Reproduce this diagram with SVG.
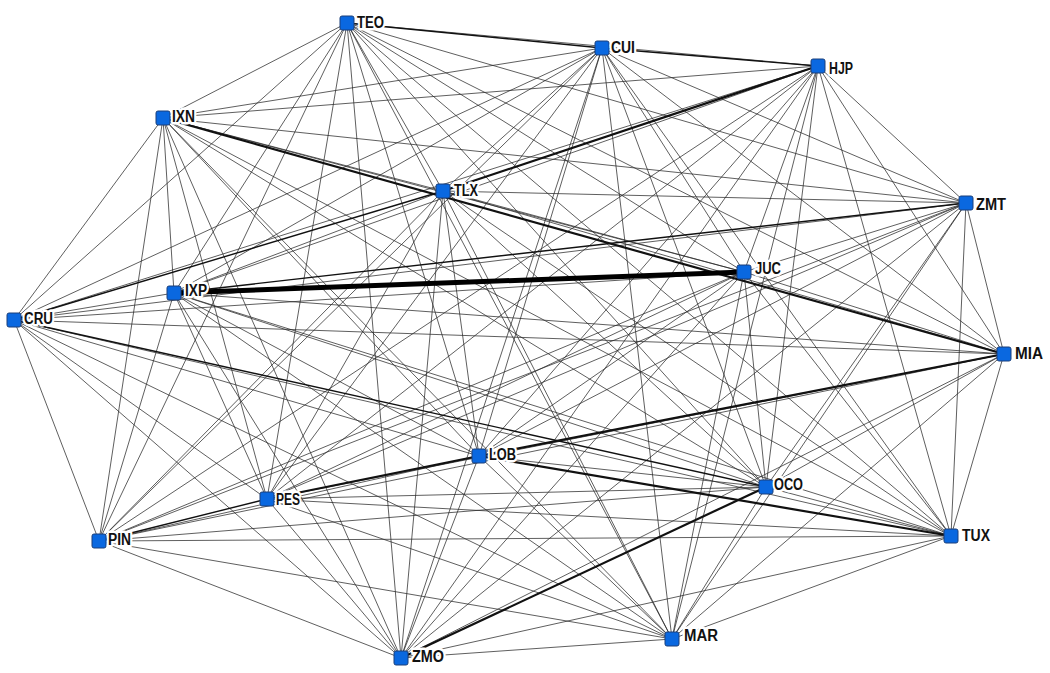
<svg xmlns="http://www.w3.org/2000/svg" width="1050" height="673" viewBox="0 0 1050 673">
<style>
.e{stroke:#2a2a2a;stroke-width:0.75;fill:none}
.t1{stroke:#111;stroke-width:1.4}
.t2{stroke:#111;stroke-width:2.2}
.t5{stroke:#000;stroke-width:5}
.n{fill:#0a68e0;stroke:#1b3f7a;stroke-width:1}
.l{font-family:"Liberation Sans",Arial,sans-serif;font-size:16px;font-weight:bold;fill:#111;stroke:#fff;stroke-width:5px;stroke-linejoin:round;paint-order:stroke}
</style>
<rect width="1050" height="673" fill="#fff"/>
<g id="connectors" class="e">
<line x1="347" y1="23" x2="818" y2="66"/><line x1="347" y1="23" x2="163" y2="118"/><line x1="347" y1="23" x2="443" y2="191"/><line x1="347" y1="23" x2="966" y2="203"/><line x1="347" y1="23" x2="744" y2="272"/><line x1="347" y1="23" x2="174" y2="293"/><line x1="347" y1="23" x2="14" y2="320"/><line x1="347" y1="23" x2="1004" y2="354"/><line x1="347" y1="23" x2="479" y2="456"/><line x1="347" y1="23" x2="766" y2="487"/><line x1="347" y1="23" x2="267" y2="499"/><line x1="347" y1="23" x2="99" y2="541"/><line x1="347" y1="23" x2="951" y2="536"/><line x1="347" y1="23" x2="672" y2="639"/><line x1="347" y1="23" x2="401" y2="658"/>
<line x1="602" y1="48" x2="163" y2="118"/><line x1="602" y1="48" x2="443" y2="191"/><line x1="602" y1="48" x2="966" y2="203"/><line x1="602" y1="48" x2="744" y2="272"/><line x1="602" y1="48" x2="174" y2="293"/><line x1="602" y1="48" x2="14" y2="320"/><line x1="602" y1="48" x2="1004" y2="354"/><line x1="602" y1="48" x2="479" y2="456"/><line x1="602" y1="48" x2="766" y2="487"/><line x1="602" y1="48" x2="267" y2="499"/><line x1="602" y1="48" x2="99" y2="541"/><line x1="602" y1="48" x2="951" y2="536"/><line x1="602" y1="48" x2="672" y2="639"/><line x1="602" y1="48" x2="401" y2="658"/>
<line x1="818" y1="66" x2="163" y2="118"/><line x1="818" y1="66" x2="966" y2="203"/><line x1="818" y1="66" x2="744" y2="272"/><line x1="818" y1="66" x2="174" y2="293"/><line x1="818" y1="66" x2="14" y2="320"/><line x1="818" y1="66" x2="1004" y2="354"/><line x1="818" y1="66" x2="479" y2="456"/><line x1="818" y1="66" x2="766" y2="487"/><line x1="818" y1="66" x2="267" y2="499"/><line x1="818" y1="66" x2="99" y2="541"/><line x1="818" y1="66" x2="951" y2="536"/><line x1="818" y1="66" x2="672" y2="639"/><line x1="818" y1="66" x2="401" y2="658"/>
<line x1="163" y1="118" x2="443" y2="191"/><line x1="163" y1="118" x2="966" y2="203"/><line x1="163" y1="118" x2="744" y2="272"/><line x1="163" y1="118" x2="174" y2="293"/><line x1="163" y1="118" x2="14" y2="320"/><line x1="163" y1="118" x2="479" y2="456"/><line x1="163" y1="118" x2="766" y2="487"/><line x1="163" y1="118" x2="267" y2="499"/><line x1="163" y1="118" x2="99" y2="541"/><line x1="163" y1="118" x2="951" y2="536"/><line x1="163" y1="118" x2="672" y2="639"/><line x1="163" y1="118" x2="401" y2="658"/>
<line x1="443" y1="191" x2="966" y2="203"/><line x1="443" y1="191" x2="744" y2="272"/><line x1="443" y1="191" x2="174" y2="293"/><line x1="443" y1="191" x2="1004" y2="354"/><line x1="443" y1="191" x2="479" y2="456"/><line x1="443" y1="191" x2="766" y2="487"/><line x1="443" y1="191" x2="267" y2="499"/><line x1="443" y1="191" x2="99" y2="541"/><line x1="443" y1="191" x2="951" y2="536"/><line x1="443" y1="191" x2="672" y2="639"/><line x1="443" y1="191" x2="401" y2="658"/>
<line x1="966" y1="203" x2="744" y2="272"/><line x1="966" y1="203" x2="14" y2="320"/><line x1="966" y1="203" x2="1004" y2="354"/><line x1="966" y1="203" x2="479" y2="456"/><line x1="966" y1="203" x2="766" y2="487"/><line x1="966" y1="203" x2="267" y2="499"/><line x1="966" y1="203" x2="99" y2="541"/><line x1="966" y1="203" x2="951" y2="536"/><line x1="966" y1="203" x2="672" y2="639"/><line x1="966" y1="203" x2="401" y2="658"/>
<line x1="744" y1="272" x2="14" y2="320"/><line x1="744" y1="272" x2="1004" y2="354"/><line x1="744" y1="272" x2="479" y2="456"/><line x1="744" y1="272" x2="766" y2="487"/><line x1="744" y1="272" x2="267" y2="499"/><line x1="744" y1="272" x2="99" y2="541"/><line x1="744" y1="272" x2="951" y2="536"/><line x1="744" y1="272" x2="672" y2="639"/><line x1="744" y1="272" x2="401" y2="658"/>
<line x1="174" y1="293" x2="14" y2="320"/><line x1="174" y1="293" x2="1004" y2="354"/><line x1="174" y1="293" x2="479" y2="456"/><line x1="174" y1="293" x2="766" y2="487"/><line x1="174" y1="293" x2="267" y2="499"/><line x1="174" y1="293" x2="99" y2="541"/><line x1="174" y1="293" x2="951" y2="536"/><line x1="174" y1="293" x2="672" y2="639"/><line x1="174" y1="293" x2="401" y2="658"/>
<line x1="14" y1="320" x2="1004" y2="354"/><line x1="14" y1="320" x2="479" y2="456"/><line x1="14" y1="320" x2="267" y2="499"/><line x1="14" y1="320" x2="99" y2="541"/><line x1="14" y1="320" x2="951" y2="536"/><line x1="14" y1="320" x2="672" y2="639"/><line x1="14" y1="320" x2="401" y2="658"/>
<line x1="1004" y1="354" x2="766" y2="487"/><line x1="1004" y1="354" x2="267" y2="499"/><line x1="1004" y1="354" x2="99" y2="541"/><line x1="1004" y1="354" x2="951" y2="536"/><line x1="1004" y1="354" x2="672" y2="639"/><line x1="1004" y1="354" x2="401" y2="658"/>
<line x1="479" y1="456" x2="766" y2="487"/><line x1="479" y1="456" x2="99" y2="541"/><line x1="479" y1="456" x2="672" y2="639"/><line x1="479" y1="456" x2="401" y2="658"/>
<line x1="766" y1="487" x2="267" y2="499"/><line x1="766" y1="487" x2="99" y2="541"/><line x1="766" y1="487" x2="951" y2="536"/><line x1="766" y1="487" x2="672" y2="639"/>
<line x1="267" y1="499" x2="951" y2="536"/><line x1="267" y1="499" x2="672" y2="639"/><line x1="267" y1="499" x2="401" y2="658"/>
<line x1="99" y1="541" x2="951" y2="536"/><line x1="99" y1="541" x2="672" y2="639"/><line x1="99" y1="541" x2="401" y2="658"/>
<line x1="951" y1="536" x2="672" y2="639"/><line x1="951" y1="536" x2="401" y2="658"/>
<line x1="672" y1="639" x2="401" y2="658"/>
<line class="t1" x1="347" y1="23" x2="602" y2="48"/>
<line class="t1" x1="602" y1="48" x2="818" y2="66"/>
<line class="t1" x1="966" y1="203" x2="174" y2="293"/>
<line class="t1" x1="443" y1="191" x2="14" y2="320"/>
<line class="t1" x1="14" y1="320" x2="766" y2="487"/>
<line class="t1" x1="267" y1="499" x2="99" y2="541"/>
<line class="t2" x1="818" y1="66" x2="443" y2="191"/>
<line class="t2" x1="163" y1="118" x2="1004" y2="354"/>
<line class="t2" x1="1004" y1="354" x2="479" y2="456"/>
<line class="t2" x1="479" y1="456" x2="267" y2="499"/>
<line class="t2" x1="479" y1="456" x2="951" y2="536"/>
<line class="t2" x1="766" y1="487" x2="401" y2="658"/>
<line class="t5" x1="174" y1="293" x2="744" y2="272"/>
</g>
<g id="TEO"><rect class="n" x="340" y="16" width="14" height="14" rx="2"/><text class="l" x="357" y="28" textLength="27" lengthAdjust="spacingAndGlyphs">TEO</text></g>
<g id="CUI"><rect class="n" x="595" y="41" width="14" height="14" rx="2"/><text class="l" x="611" y="53" textLength="24" lengthAdjust="spacingAndGlyphs">CUI</text></g>
<g id="HJP"><rect class="n" x="811" y="59" width="14" height="14" rx="2"/><text class="l" x="829" y="74" textLength="24" lengthAdjust="spacingAndGlyphs">HJP</text></g>
<g id="IXN"><rect class="n" x="156" y="111" width="14" height="14" rx="2"/><text class="l" x="172" y="122" textLength="23" lengthAdjust="spacingAndGlyphs">IXN</text></g>
<g id="TLX"><rect class="n" x="436" y="184" width="14" height="14" rx="2"/><text class="l" x="454" y="196" textLength="24" lengthAdjust="spacingAndGlyphs">TLX</text></g>
<g id="ZMT"><rect class="n" x="959" y="196" width="14" height="14" rx="2"/><text class="l" x="976" y="210" textLength="30" lengthAdjust="spacingAndGlyphs">ZMT</text></g>
<g id="JUC"><rect class="n" x="737" y="265" width="14" height="14" rx="2"/><text class="l" x="755" y="274" textLength="26" lengthAdjust="spacingAndGlyphs">JUC</text></g>
<g id="IXP"><rect class="n" x="167" y="286" width="14" height="14" rx="2"/><text class="l" x="185" y="296" textLength="22" lengthAdjust="spacingAndGlyphs">IXP</text></g>
<g id="CRU"><rect class="n" x="7" y="313" width="14" height="14" rx="2"/><text class="l" x="24" y="324" textLength="29" lengthAdjust="spacingAndGlyphs">CRU</text></g>
<g id="MIA"><rect class="n" x="997" y="347" width="14" height="14" rx="2"/><text class="l" x="1015" y="359" textLength="28" lengthAdjust="spacingAndGlyphs">MIA</text></g>
<g id="LOB"><rect class="n" x="472" y="449" width="14" height="14" rx="2"/><text class="l" x="489" y="460" textLength="27" lengthAdjust="spacingAndGlyphs">LOB</text></g>
<g id="OCO"><rect class="n" x="759" y="480" width="14" height="14" rx="2"/><text class="l" x="774" y="490" textLength="29" lengthAdjust="spacingAndGlyphs">OCO</text></g>
<g id="PES"><rect class="n" x="260" y="492" width="14" height="14" rx="2"/><text class="l" x="276" y="505" textLength="24" lengthAdjust="spacingAndGlyphs">PES</text></g>
<g id="PIN"><rect class="n" x="92" y="534" width="14" height="14" rx="2"/><text class="l" x="108" y="545" textLength="23" lengthAdjust="spacingAndGlyphs">PIN</text></g>
<g id="TUX"><rect class="n" x="944" y="529" width="14" height="14" rx="2"/><text class="l" x="962" y="541" textLength="28" lengthAdjust="spacingAndGlyphs">TUX</text></g>
<g id="MAR"><rect class="n" x="665" y="632" width="14" height="14" rx="2"/><text class="l" x="684" y="641" textLength="34" lengthAdjust="spacingAndGlyphs">MAR</text></g>
<g id="ZMO"><rect class="n" x="394" y="651" width="14" height="14" rx="2"/><text class="l" x="412" y="662" textLength="32" lengthAdjust="spacingAndGlyphs">ZMO</text></g>
</svg>
